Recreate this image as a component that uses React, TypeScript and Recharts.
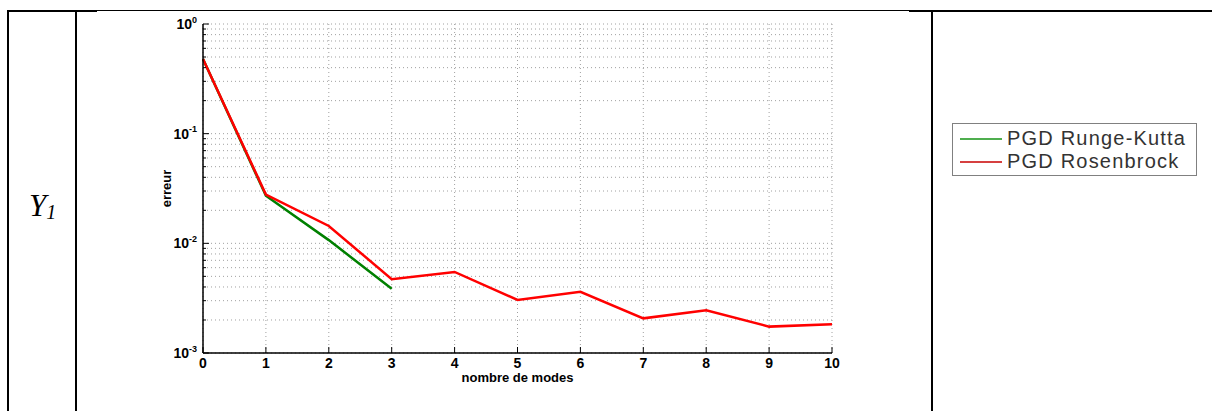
import React from 'react';
import { LineChart, Line, XAxis, YAxis, CartesianGrid, Legend } from 'recharts';

// ---- data ----
const modes = [0, 1, 2, 3, 4, 5, 6, 7, 8, 9, 10];
const rungeKutta = [0.48, 0.0272, 0.0107, 0.00386];
const rosenbrock = [0.48, 0.0278, 0.0144, 0.00471, 0.00548, 0.00305, 0.00361, 0.00207, 0.00245, 0.00174, 0.00183];
const xTicks = [0, 1, 2, 3, 4, 5, 6, 7, 8, 9, 10];
const yTicks = [
  0.001, 0.002, 0.003, 0.004, 0.005, 0.006, 0.007, 0.008, 0.009,
  0.01, 0.02, 0.03, 0.04, 0.05, 0.06, 0.07, 0.08, 0.09,
  0.1, 0.2, 0.3, 0.4, 0.5, 0.6, 0.7, 0.8, 0.9,
  1,
];
const seriesNames = ['PGD Runge-Kutta', 'PGD Rosenbrock'];
const rowLabel = 'Y';
const rowLabelSub = '1';
const xLabel = 'nombre de modes';
const yLabel = 'erreur';

const data = modes.map((m, i) => ({
  mode: m,
  rk: i < rungeKutta.length ? rungeKutta[i] : null,
  rb: rosenbrock[i],
}));

const lineColors = ['#008000', '#ff0000'];
const legendColors = ['#4fae4f', '#d64040'];
const FONT = '"Liberation Sans", Arial, Helvetica, sans-serif';

const isDecade = (v: number) => Math.abs(Math.log10(v) - Math.round(Math.log10(v))) < 1e-6;

const YTickLeft = (props: any) => {
  const { x, y, payload } = props;
  const v = payload.value;
  const major = isDecade(v);
  return (
    <g>
      <line x1={x} x2={x + (major ? 6 : 3)} y1={y} y2={y} stroke="#000" strokeWidth={1} />
      {major && (
        <text x={x - 6} y={y + 5} textAnchor="end" fontFamily={FONT} fontWeight="bold" fontSize={14} fill="#000">
          <tspan>10</tspan>
          <tspan dy={-6.5} fontSize={9}>{String(Math.round(Math.log10(v)))}</tspan>
        </text>
      )}
    </g>
  );
};

const YTickRight = (props: any) => {
  const { x, y, payload } = props;
  const major = isDecade(payload.value);
  return <line x1={x} x2={x - (major ? 6 : 3)} y1={y} y2={y} stroke="#000" strokeWidth={1} />;
};

const XTickBottom = (props: any) => {
  const { x, y, payload } = props;
  return (
    <g>
      <line x1={x} x2={x} y1={y} y2={y - 6} stroke="#000" strokeWidth={1} />
      <text x={x} y={y + 15} textAnchor="middle" fontFamily={FONT} fontWeight="bold" fontSize={14} fill="#000">
        {payload.value}
      </text>
    </g>
  );
};

const XTickTop = (props: any) => {
  const { x, y } = props;
  return <line x1={x} x2={x} y1={y} y2={y + 6} stroke="#000" strokeWidth={1} />;
};

const XLabelContent = (props: any) => {
  const vb = props.viewBox || { x: 203, y: 353, width: 629, height: 30 };
  return (
    <text x={vb.x + vb.width / 2} y={vb.y + 29} textAnchor="middle" fontFamily={FONT} fontWeight="bold" fontSize={13} fill="#000">
      {xLabel}
    </text>
  );
};

const YLabelContent = (props: any) => {
  const vb = props.viewBox || { x: 143, y: 24, width: 60, height: 329 };
  const cx = vb.x + 23;
  const cy = vb.y + vb.height / 2;
  return (
    <text x={cx} y={cy} transform={`rotate(-90, ${cx}, ${cy})`} textAnchor="middle" dominantBaseline="central" fontFamily={FONT} fontWeight="bold" fontSize={13} fill="#000">
      {yLabel}
    </text>
  );
};

const LegendBox = () => (
  <div
    style={{
      border: '1px solid #808080',
      background: '#fff',
      width: 245,
      height: 53,
      paddingTop: 3,
      boxSizing: 'border-box',
      fontFamily: FONT,
      color: '#333',
    }}
  >
    {seriesNames.map((n, i) => (
      <div key={n} style={{ display: 'flex', alignItems: 'center', height: 23, marginLeft: 7 }}>
        <div style={{ width: 42, height: 2, background: legendColors[i] }} />
        <span style={{ marginLeft: 5, fontSize: 20, lineHeight: '23px', letterSpacing: 1.2, whiteSpace: 'nowrap' }}>{n}</span>
      </div>
    ))}
  </div>
);

const Rule = ({ l, t, w, h }: { l: number; t: number; w: number; h: number }) => (
  <div style={{ position: 'absolute', left: l, top: t, width: w, height: h, background: '#000' }} />
);

export default function App() {
  return (
    <div style={{ position: 'absolute', left: 0, top: 0, width: 1212, height: 411, background: '#fff', overflow: 'hidden' }}>
      <Rule l={7} t={10} w={2} h={401} />
      <Rule l={75} t={10} w={2} h={401} />
      <Rule l={931} t={10} w={2} h={401} />
      <Rule l={7} t={10} w={90} h={2} />
      <Rule l={97} t={10} w={812} h={1} />
      <Rule l={909} t={10} w={303} h={2} />
      <div
        style={{
          position: 'absolute',
          left: 29,
          top: 190,
          fontFamily: '"Liberation Serif", "Times New Roman", serif',
          fontStyle: 'italic',
          fontSize: 31,
          lineHeight: '31px',
          color: '#000',
          whiteSpace: 'nowrap',
        }}
      >
        {rowLabel}
        <span style={{ fontSize: 20, position: 'relative', top: 3 }}>{rowLabelSub}</span>
      </div>
      <div style={{ position: 'absolute', left: 0, top: 0 }}>
        <LineChart width={1212} height={411} data={data} margin={{ top: 24, right: 380, bottom: 28, left: 143 }}>
          <CartesianGrid stroke="#a0a0a0" strokeDasharray="1 3" strokeWidth={1} />
          <XAxis
            dataKey="mode"
            type="number"
            domain={[0, 10]}
            ticks={xTicks}
            interval={0}
            height={30}
            tickSize={0}
            tickMargin={0}
            tickLine={false}
            axisLine={{ stroke: '#000', strokeWidth: 1.5 }}
            tick={<XTickBottom />}
            label={<XLabelContent />}
          />
          <XAxis
            xAxisId="top"
            orientation="top"
            dataKey="mode"
            type="number"
            domain={[0, 10]}
            ticks={xTicks}
            interval={0}
            height={0}
            tickSize={0}
            tickMargin={0}
            tickLine={false}
            axisLine={{ stroke: '#000', strokeWidth: 1.5 }}
            tick={<XTickTop />}
          />
          <YAxis
            scale="log"
            type="number"
            domain={[0.001, 1]}
            allowDataOverflow
            ticks={yTicks}
            interval={0}
            width={60}
            tickSize={0}
            tickMargin={0}
            tickLine={false}
            axisLine={{ stroke: '#000', strokeWidth: 1.5 }}
            tick={<YTickLeft />}
            label={<YLabelContent />}
          />
          <YAxis
            yAxisId="right"
            orientation="right"
            scale="log"
            type="number"
            domain={[0.001, 1]}
            allowDataOverflow
            ticks={yTicks}
            interval={0}
            width={0}
            tickSize={0}
            tickMargin={0}
            tickLine={false}
            axisLine={{ stroke: '#000', strokeWidth: 1.5 }}
            tick={<YTickRight />}
          />
          <Legend
            layout="vertical"
            align="center"
            verticalAlign="middle"
            wrapperStyle={{ left: 952, top: 123, width: 245, height: 53 }}
            content={() => <LegendBox />}
          />
          <Line
            dataKey="rk"
            name={seriesNames[0]}
            stroke={lineColors[0]}
            strokeWidth={2.5}
            dot={false}
            activeDot={false}
            isAnimationActive={false}
            connectNulls={false}
          />
          <Line
            dataKey="rb"
            name={seriesNames[1]}
            stroke={lineColors[1]}
            strokeWidth={2.5}
            dot={false}
            activeDot={false}
            isAnimationActive={false}
          />
        </LineChart>
      </div>
    </div>
  );
}
